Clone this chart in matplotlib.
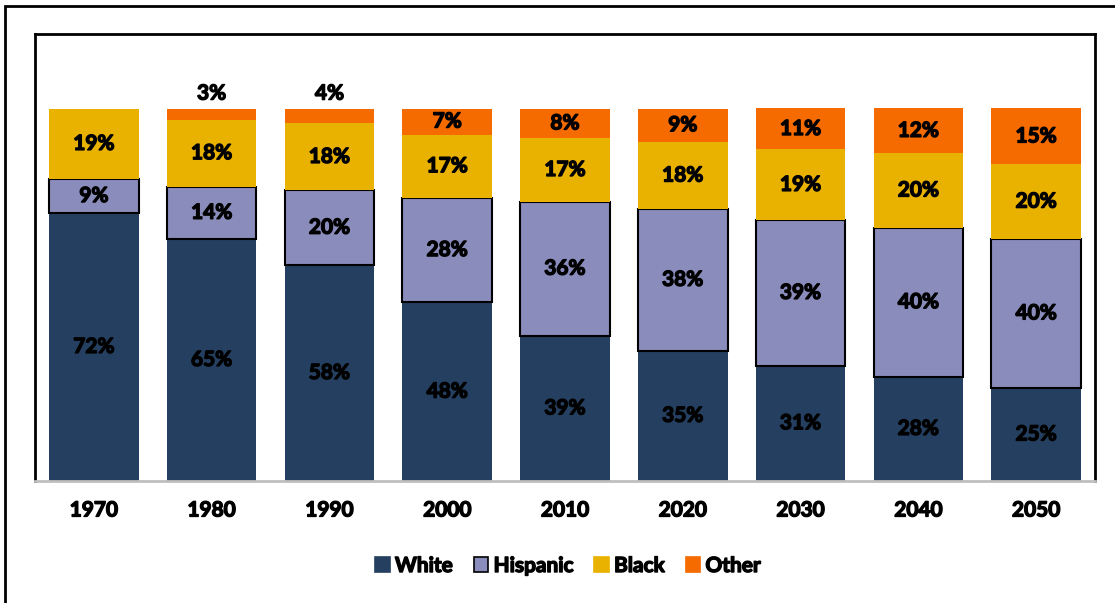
import matplotlib.pyplot as plt
from matplotlib.patches import Patch, Rectangle
import matplotlib.patheffects as pe
import numpy as np

plt.rcParams['font.family'] = ['Lato', 'DejaVu Sans']

# data (percent of total)
years = ["1970", "1980", "1990", "2000", "2010", "2020", "2030", "2040", "2050"]
white = [72, 65, 58, 48, 39, 35, 31, 28, 25]
hispanic = [9, 14, 20, 28, 36, 38, 39, 40, 40]
black = [19, 18, 18, 17, 17, 18, 19, 20, 20]
other = [0, 3, 4, 7, 8, 9, 11, 12, 15]

names = ["White", "Hispanic", "Black", "Other"]
colors = ["#253F60", "#8A8CBC", "#EAB200", "#F56B00"]
edges = ["none", "black", "none", "none"]
series = [white, hispanic, black, other]

fig = plt.figure(figsize=(11.15, 6.03), dpi=100)
ax = fig.add_axes([35 / 1115, 122 / 603, 1060 / 1115, 447 / 603])

# outer frame around chart
fig.patches.append(Rectangle((5 / 1115, -0.1), 1.2, 1 - 6 / 603 + 0.1,
                             transform=fig.transFigure, fill=False,
                             edgecolor="black", linewidth=2, zorder=10))

x = np.arange(len(years))
bottom = np.zeros(len(years))
fx = [pe.withStroke(linewidth=1.0, foreground="black")]
for vals, name, col, ec in zip(series, names, colors, edges):
    v = np.array(vals) / 100.0
    ax.bar(x, v, 0.76, bottom=bottom, color=col, edgecolor=ec,
           linewidth=1.5 if ec != "none" else 0, label=name, zorder=2)
    for i in range(len(years)):
        if vals[i] == 0:
            continue
        if vals[i] < 5:
            ypos = bottom[i] + v[i] + 0.04
        else:
            ypos = bottom[i] + v[i] / 2
        ax.text(x[i], ypos, f"{vals[i]}%", ha="center", va="center",
                fontsize=15, fontweight="bold", color="black", path_effects=fx, zorder=5)
    bottom = bottom + v

ax.set_xlim(-0.5, 8.5)
ax.set_ylim(0, 1.2)
ax.set_yticks([])
ax.set_xticks(x)
ax.set_xticklabels(years, fontsize=15, fontweight="bold")
for lab in ax.get_xticklabels():
    lab.set_path_effects(fx)
ax.tick_params(axis="x", length=0, pad=14)
for s in ["left", "top", "right"]:
    ax.spines[s].set_linewidth(2)
    ax.spines[s].set_color("black")
ax.spines["bottom"].set_linewidth(2)
ax.spines["bottom"].set_color("#BFBFBF")

handles = [Patch(facecolor=c, edgecolor=("black" if e != "none" else c), linewidth=1.2)
           for c, e in zip(colors, edges)]
leg = fig.legend(handles, names, loc="center", bbox_to_anchor=(568 / 1115, 1 - 566 / 603),
                 ncol=4, frameon=False, handlelength=0.7, handleheight=0.7,
                 handletextpad=0.25, columnspacing=1.0,
                 prop={"size": 15, "weight": "bold"})
for t in leg.get_texts():
    t.set_path_effects(fx)

fig.savefig("out.png", dpi=100)
